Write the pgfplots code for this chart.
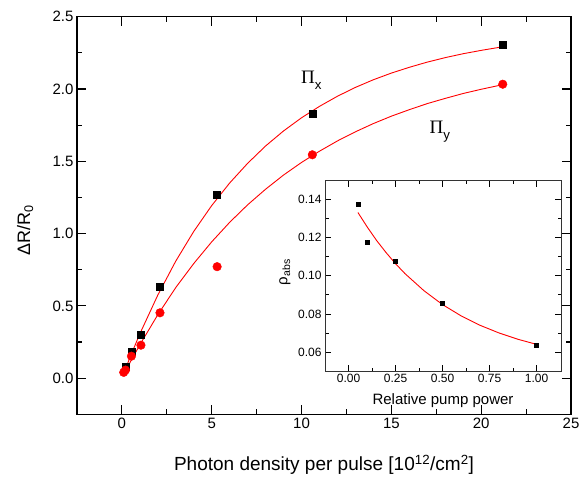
\documentclass[border=0pt]{standalone}
\usepackage{pgfplots}
\pgfplotsset{compat=1.18}
\usepackage{fontspec}
\setmainfont{Liberation Sans}
\newfontfamily\seriffont{Liberation Serif}
\begin{document}
\begin{tikzpicture}
\begin{axis}[
  name=main, at={(0pt,0pt)}, anchor=south west,
  scale only axis, width=494pt, height=397.6pt,
  xmin=-2.5, xmax=25, ymin=-0.25, ymax=2.5,
  xtick={0,5,...,25}, ytick={0,0.5,...,2.5},
  minor x tick num=1, minor y tick num=1,
  tick align=inside,
  major tick length=9pt, minor tick length=5pt,
  axis line style={line width=1.6pt},
  every tick/.style={line width=1.1pt, black},
  /pgf/number format/assume math mode=true,
  ticklabel style={font=\fontsize{15}{15}\selectfont},
  yticklabel style={/pgf/number format/fixed, /pgf/number format/precision=1, /pgf/number format/fixed zerofill},
  xticklabel style={/pgf/number format/fixed},
  xlabel={Photon density per pulse [10\textsuperscript{12}/cm\textsuperscript{2}]},
  ylabel={ΔR/R\textsubscript{0}},
  label style={font=\fontsize{18}{18}\selectfont},
  xlabel style={font=\fontsize{19}{19}\selectfont, at={(axis description cs:0.5,-0.1275)}, anchor=center},
  ylabel style={at={(axis description cs:-0.105,0.463)}, anchor=center},
  clip=false,
]
\addplot[red, line width=0.9pt, no marks] coordinates {
(0.1,0.033) (0.5,0.159) (1,0.307) (2,0.575) (3,0.810) (4,1.015) (5,1.194) (6,1.350) (7,1.486) (8,1.606) (9,1.710) (10,1.801) (11,1.880) (12,1.950) (13,2.011) (14,2.064) (15,2.110) (16,2.150) (17,2.186) (18,2.217) (19,2.244) (20,2.267) (21.2,2.292)};
\addplot[red, line width=0.9pt, no marks] coordinates {
(0.1,0.024) (0.5,0.119) (1,0.231) (2,0.439) (3,0.627) (4,0.793) (5,0.943) (6,1.078) (7,1.199) (8,1.307) (9,1.405) (10,1.492) (11,1.570) (12,1.641) (13,1.704) (14,1.761) (15,1.812) (16,1.857) (17,1.899) (18,1.935) (19,1.969) (20,1.998) (21.2,2.030)};
\addplot[only marks, mark=square*, mark size=3.5pt, black] coordinates {
(0.2,0.077) (0.53,0.185) (1.06,0.303) (2.12,0.630) (5.3,1.268) (10.6,1.830) (21.2,2.308)};
\addplot[only marks, mark=*, mark size=4.3pt, red] coordinates {
(0.1,0.040) (0.2,0.056) (0.53,0.152) (1.06,0.228) (2.12,0.452) (5.3,0.771) (10.6,1.545) (21.2,2.033)};
\node[anchor=base west, inner sep=0pt, font=\fontsize{19}{19}\selectfont] at (axis cs:9.97,2.039) {{\seriffont Π}\raisebox{-0.35ex}{\textsubscript{x}}};
\node[anchor=base west, inner sep=0pt, font=\fontsize{19}{19}\selectfont] at (axis cs:17.12,1.693) {{\seriffont Π}\raisebox{-0.35ex}{\textsubscript{y}}};
\end{axis}
\begin{axis}[
  at={(248pt,43.3pt)}, anchor=south west,
  scale only axis, width=236pt, height=190.3pt,
  axis background/.style={fill=white},
  xmin=-0.125, xmax=1.13, ymin=0.05, ymax=0.15,
  xtick={0,0.25,...,1}, ytick={0.06,0.08,...,0.141},
  minor x tick num=1, minor y tick num=1,
  tick align=inside,
  major tick length=6pt, minor tick length=3.5pt,
  axis line style={line width=1pt, black!80},
  every tick/.style={line width=0.8pt, black},
  /pgf/number format/assume math mode=true,
  ticklabel style={font=\fontsize{12}{12}\selectfont, /pgf/number format/fixed, /pgf/number format/precision=2, /pgf/number format/fixed zerofill},
  xlabel={Relative pump power},
  ylabel={ρ\textsubscript{abs}},
  label style={font=\fontsize{15}{15}\selectfont},
  xlabel style={at={(axis description cs:0.5,-0.156)}, anchor=center},
  ylabel style={at={(axis description cs:-0.17,0.52)}, anchor=center},
]
\addplot[red, line width=0.9pt, no marks] coordinates {
(0.05,0.1333) (0.1,0.1256) (0.15,0.1185) (0.2,0.1122) (0.25,0.1064) (0.3,0.1012) (0.4,0.0923) (0.5,0.0849) (0.6,0.0789) (0.7,0.0740) (0.8,0.0700) (0.9,0.0667) (1.0,0.0640)};
\addplot[only marks, mark=square*, mark size=2pt, black] coordinates {
(0.05,0.1374) (0.1,0.1175) (0.25,0.1077) (0.5,0.0858) (1.0,0.0635)};
\end{axis}
\pgfresetboundingbox
\path (-77pt,-61.7pt) rectangle (508pt,414.3pt);
\end{tikzpicture}
\end{document}
